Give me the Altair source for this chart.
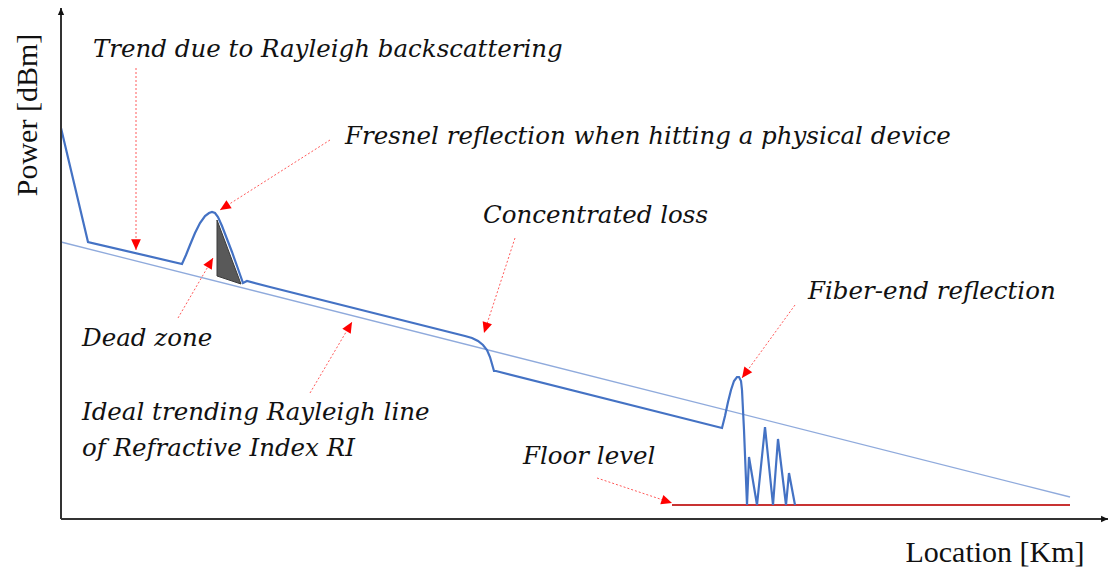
import math
import altair as alt
import pandas as pd

# ---- data (arbitrary units: Location in km, Power in dB above the floor of the plot) ----
trace_x = [0, 2.7, 12.1,
           12.5, 12.9, 13.4, 13.9, 14.4, 14.8, 15.1, 15.4, 15.7, 16.1, 16.6, 17.1, 17.6, 18.2,
           18.6, 20.9,
           40.4, 41.1, 41.7, 42.2, 42.6, 42.9, 43.1, 43.3, 43.5,
           66.1, 66.4, 66.7, 67.0, 67.3, 67.6, 67.8, 68.0, 68.1, 68.2, 68.3,
           68.6, 68.8, 69.6, 70.4, 71.2, 71.7, 72.5, 72.8, 73.4]
trace_y = [39.1, 27.7, 25.5,
           26.4, 27.4, 28.6, 29.6, 30.3, 30.6, 30.7, 30.6, 30.2, 29.3, 28.0, 26.7, 25.3, 23.6,
           23.8, 23.2,
           18.3, 18.1, 17.8, 17.4, 16.9, 16.2, 15.5, 14.8, 14.8,
           9.1, 10.3, 11.7, 12.9, 13.8, 14.2, 14.2, 13.8, 12.9, 10.9, 8.9,
           1.4, 6.2, 1.4, 9.2, 1.4, 8.0, 1.4, 4.6, 1.4]

ideal_x = [0, 100.9]
ideal_y = [27.7, 2.2]

floor_x = [61.1, 100.9]
floor_y = [1.4, 1.4]

dead_x = [15.6, 18.0]
dead_top = [29.9, 23.5]
dead_bottom = [24.3, 23.5]

labels = ["Trend due to Rayleigh backscattering",
          "Fresnel reflection when hitting a physical device",
          "Concentrated loss",
          "Fiber-end reflection",
          "Dead zone",
          "Ideal trending Rayleigh line",
          "of Refractive Index RI",
          "Floor level"]
label_x = [3.2, 28.4, 42.2, 74.7, 2.1, 2.1, 2.1, 46.2]
label_y = [46.2, 37.5, 29.6, 22.0, 17.3, 9.9, 6.3, 5.5]

arrow_x1 = [7.5, 26.9, 45.4, 73.4, 11.7, 24.9, 53.6]
arrow_y1 = [45.1, 37.9, 28.1, 21.4, 20.1, 12.6, 4.1]
arrow_x2 = [7.5, 15.9, 42.3, 68.1, 15.2, 29.1, 61.1]
arrow_y2 = [26.9, 30.9, 18.6, 14.1, 26.1, 19.7, 1.6]

axis_titles = ["Power [dBm]", "Location [Km]"]

# ---- build tables ----
XMAX, YMAX = 104, 51
xs = alt.Scale(domain=[0, XMAX])
ys = alt.Scale(domain=[0, YMAX])

trace = pd.DataFrame({"x": trace_x, "y": trace_y, "o": range(len(trace_x))})
ideal = pd.DataFrame({"x": ideal_x, "y": ideal_y})
floor = pd.DataFrame({"x": floor_x, "y": floor_y})
dead = pd.DataFrame({"x": dead_x, "y": dead_top, "y2": dead_bottom})
lab = pd.DataFrame({"t": labels, "x": label_x, "y": label_y})

seg_rows = []
head_rows = []
for i in range(len(arrow_x1)):
    seg_rows.append({"id": i, "x": arrow_x1[i], "y": arrow_y1[i], "o": 0})
    seg_rows.append({"id": i, "x": arrow_x2[i], "y": arrow_y2[i], "o": 1})
    ang = math.degrees(math.atan2(arrow_x2[i] - arrow_x1[i], arrow_y2[i] - arrow_y1[i])) % 360
    head_rows.append({"x": arrow_x2[i], "y": arrow_y2[i], "a": ang})
segs = pd.DataFrame(seg_rows)
heads = pd.DataFrame(head_rows)

X = lambda: alt.X("x:Q", scale=xs, axis=None)
Y = lambda: alt.Y("y:Q", scale=ys, axis=None)

tip_shape = "M0,0L-0.5,1.1L0.5,1.1Z"

# axes
axes_lines = pd.DataFrame({"x": [0, 0, 0, 104.7], "y": [0, 51.1, 0, 0], "id": [0, 0, 1, 1]})
axes_heads = pd.DataFrame({"x": [0, 104.7], "y": [51.1, 0], "a": [0, 90]})
axis_line = alt.Chart(axes_lines).mark_line(color="#333333", strokeWidth=2, clip=False).encode(
    x=X(), y=Y(), detail="id:N")
axis_head = alt.Chart(axes_heads).mark_point(shape=tip_shape, filled=True, color="#111111",
                                            size=160, opacity=1, clip=False).encode(
    x=X(), y=Y(), angle=alt.Angle("a:Q", scale=None))

ttl = pd.DataFrame({"t": axis_titles, "x": [-3.3, 93.4], "y": [40.4, -4.3]})
title_y = alt.Chart(ttl.iloc[[0]]).mark_text(font="Liberation Serif", fontSize=30, color="#111111",
                                             angle=270, align="center", baseline="middle").encode(
    x=X(), y=Y(), text="t:N")
title_x = alt.Chart(ttl.iloc[[1]]).mark_text(font="Liberation Serif", fontSize=30, color="#111111",
                                             align="center", baseline="alphabetic").encode(
    x=X(), y=Y(), text="t:N")

ideal_l = alt.Chart(ideal).mark_line(color="#8FAADC", strokeWidth=1.3).encode(x=X(), y=Y())
floor_l = alt.Chart(floor).mark_line(color="#C83232", strokeWidth=1.8).encode(x=X(), y=Y())
dead_a = alt.Chart(dead).mark_area(color="#595959", stroke="#3a3a3a", strokeWidth=1,
                                   opacity=1).encode(x=X(), y=Y(), y2="y2:Q")
trace_l = alt.Chart(trace).mark_line(color="#4472C4", strokeWidth=2.2).encode(
    x=X(), y=Y(), order="o:Q")

seg_l = alt.Chart(segs).mark_line(color="#FF5A5A", strokeWidth=1, strokeDash=[2, 2]).encode(
    x=X(), y=Y(), detail="id:N", order="o:Q")
head_p = alt.Chart(heads).mark_point(shape=tip_shape, filled=True, color="#FF0000", size=380,
                                     opacity=1).encode(
    x=X(), y=Y(), angle=alt.Angle("a:Q", scale=None))

texts = alt.Chart(lab).mark_text(font="DejaVu Serif", fontStyle="italic", fontSize=24.5,
                                 color="#111111", align="left", baseline="alphabetic").encode(
    x=X(), y=Y(), text="t:N")

chart = alt.layer(ideal_l, floor_l, dead_a, trace_l, seg_l, head_p, texts,
                  axis_line, axis_head, title_y, title_x).properties(
    width=1040, height=510,
    padding={"left": 61, "top": 9, "right": 8, "bottom": 51},
    autosize=alt.AutoSizeParams(type="none"),
    background="white",
).configure_view(stroke=None)

chart.save("out.html", embed_options={"renderer": "svg", "actions": False})
